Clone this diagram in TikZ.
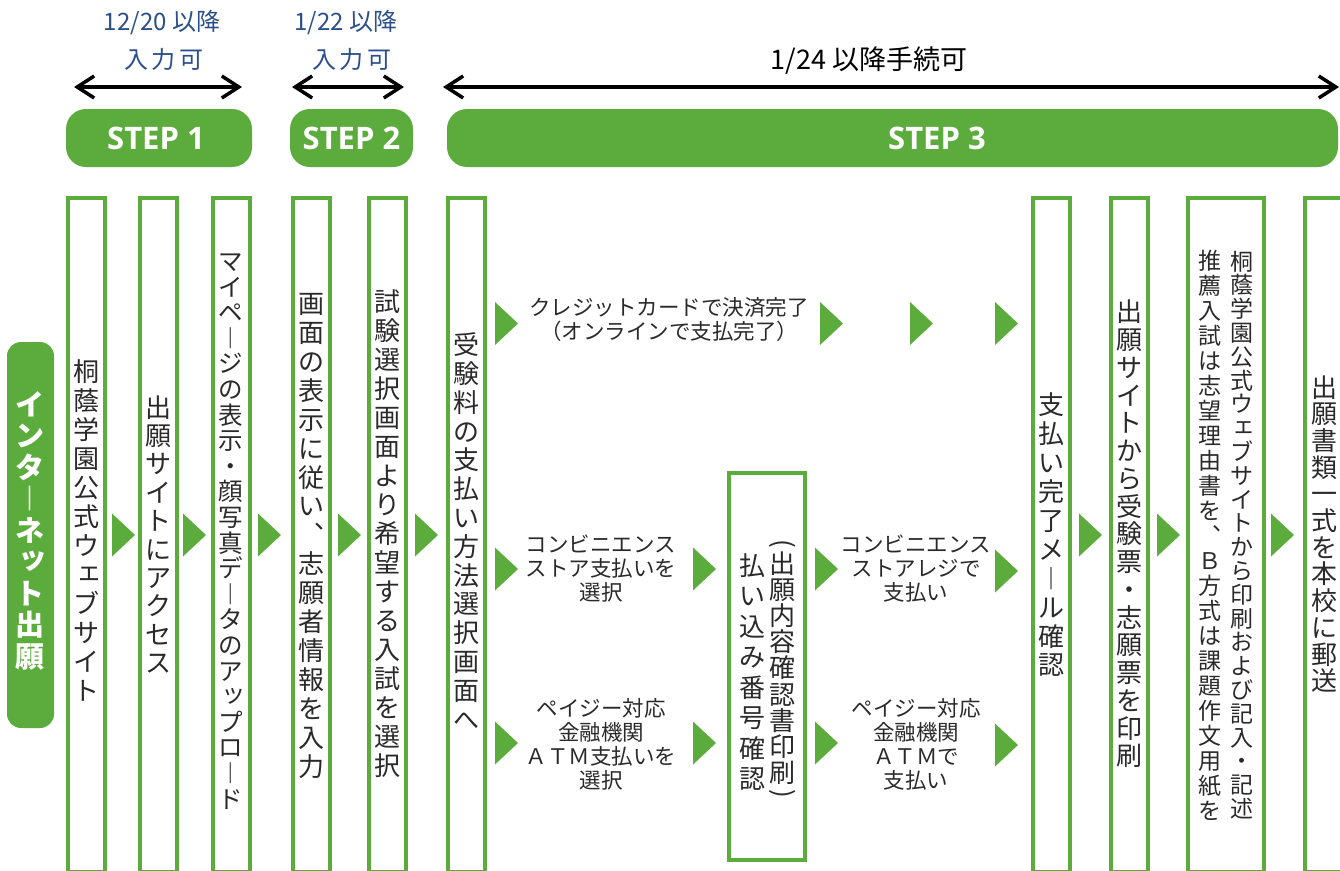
\documentclass[tikz,border=0pt]{standalone}
\usepackage{fontspec}
\setmainfont{Noto Sans CJK JP}
\newfontfamily\stepfont{Open Sans}
\usetikzlibrary{arrows.meta}
\definecolor{gr}{HTML}{5CAC3D}
\definecolor{hb}{HTML}{2B4F8C}
\definecolor{tx}{HTML}{2A2A2A}
\makeatletter
\newcommand\vtxt[2]{%
  \vbox{\offinterlineskip\@tfor\vt@c:=#2\do{%
    \vbox to #1{\vss\hbox to 1em{\hss\vrule height .88em depth .12em width 0pt\vt@c\hss}\vss}}}}
\makeatother
\newcommand\sk[1]{\raisebox{.14em}{\kern.2em#1}}
\newcommand\vb{︱}
\newcommand\vc{︑}
\newcommand\tri[2]{\fill[gr] (#1,#2-21.5) -- (#1+23,#2) -- (#1,#2+21.5) -- cycle;}
\begin{document}
\begin{tikzpicture}[x=1pt,y=-1pt,
  col/.style={draw=gr, line width=4pt, minimum width=37pt, inner sep=0pt, fill=white},
  stepbar/.style={fill=gr, rounded corners=20pt, inner sep=0pt, minimum height=58pt},
  steptext/.style={text=white, inner sep=0pt, font=\stepfont\bfseries\fontsize{31}{31}\selectfont},
  vt/.style={inner sep=0pt, text=tx, font=\fontsize{26}{26}\selectfont},
  vts/.style={inner sep=0pt, text=tx, font=\fontsize{23}{23}\selectfont},
  lbl/.style={align=center, inner sep=0pt, text=tx, font=\fontsize{21.5}{24}\selectfont},
  hdr/.style={inner sep=0pt, font=\fontsize{24}{24}\selectfont},
  dbl/.style={line width=3.5pt, {Straight Barb[length=17pt,width=22pt,line width=3.5pt]}-{Straight Barb[length=17pt,width=22pt,line width=3.5pt]}}
]
\useasboundingbox (0,0) rectangle (1340,870);
\clip (0,0) rectangle (1340,870);
\fill[white] (0,0) rectangle (1340,870);

% headers
\node[hdr, text=hb] (h1a) at (162,23) {12/20 以降};
\node[hdr, text=hb] (h1b) at (164,59) {入\kern4pt力\kern4pt可};
\node[hdr, text=hb] (h2a) at (346,23) {1/22 以降};
\node[hdr, text=hb] (h2b) at (352,59) {入\kern4pt力\kern4pt可};
\node[hdr, text=black, font=\fontsize{27}{27}\selectfont] (h3) at (869,61) {1/24 以降手続可};

\coordinate (a1l) at (74,87);  \coordinate (a1r) at (242,87);
\coordinate (a2l) at (292,87); \coordinate (a2r) at (404,87);
\coordinate (a3l) at (443,87); \coordinate (a3r) at (1339,87);
\draw[dbl] (a1l) -- (a1r);
\draw[dbl] (a2l) -- (a2r);
\draw[dbl] (a3l) -- (a3r);

% step bars
\node[stepbar, minimum width=186pt] (s1) at (159,138) {};
\node[steptext] at (156,138) {STEP 1};
\node[stepbar, minimum width=123pt] (s2) at (351.5,138) {};
\node[steptext] at (s2) {STEP 2};
\node[stepbar, minimum width=891pt] (s3) at (892.5,138) {};
\node[steptext] (s3t) at (937,138) {STEP 3};

% left label
\node[fill=gr, rounded corners=14pt, minimum width=47pt, minimum height=386pt, inner sep=0pt] (L) at (30.5,535) {};
\node[inner sep=0pt, text=white, font=\bfseries\fontsize{29}{29}\selectfont] (Lt) at (30,530)
  {\vtxt{31.5pt}{インタ\vb ネ{\sk ッ}ト出願}};

% columns
\node[col, minimum height=674pt] (c1) at (86.5,535) {};
\node[col, minimum height=674pt] (c2) at (158,535) {};
\node[col, minimum height=674pt] (c3) at (231,535) {};
\node[col, minimum height=674pt] (c4) at (311,535) {};
\node[col, minimum height=674pt] (c5) at (387.5,535) {};
\node[col, minimum height=674pt] (c6) at (466,535) {};
\node[col, minimum width=76pt, minimum height=387pt] (m) at (767,666.5) {};
\node[col, minimum height=674pt] (c8) at (1051,535) {};
\node[col, minimum height=674pt] (c9) at (1129,535) {};
\node[col, minimum width=76pt, minimum height=674pt] (c10) at (1226,535) {};
\node[col, minimum height=674pt] (c11) at (1323.5,535) {};

% column texts
\node[vt] (t1) at (86.5,531) {\vtxt{29pt}{桐蔭学園公式ウ{\sk ェ}ブサイト}};
\node[vt] (t2) at (158,535) {\vtxt{28.4pt}{出願サイトにアクセス}};
\node[vt, font=\fontsize{24.5}{24.5}\selectfont] (t3) at (231,530) {\vtxt{25.6pt}{マイペ\vb ジの表示・顔写真デ\vb タのア{\sk ッ}プロ\vb ド}};
\node[vt] (t4) at (311,535) {\vtxt{28.9pt}{画面の表示に従い\vc 志願者情報を入力}};
\node[vt] (t5) at (387.5,534) {\vtxt{29pt}{試験選択画面より希望する入試を選択}};
\node[vt] (t6) at (466,532) {\vtxt{28.8pt}{受験料の支払い方法選択画面へ}};
\node[vt] (mL) at (752,672) {\vtxt{30.5pt}{払い込み番号確認}};
\node[vt] (mR) at (782,668) {\vtxt{26.2pt}{出願内容確認書印刷}};
\node[vt, rotate=-90] (pO) at (783,544) {(};
\node[vt, rotate=-90] (pC) at (783,794) {)};
\node[vt] (t8) at (1051,535) {\vtxt{28.9pt}{支払い完了メ\vb ル確認}};
\node[vt] (t9) at (1129,534) {\vtxt{27.75pt}{出願サイトから受験票・志願票を印刷}};
\node[vts] (t10r) at (1242,535) {\vtxt{23.8pt}{桐蔭学園公式ウ{\sk ェ}ブサイトから印刷および記入・記述}};
\node[vts] (t10l) at (1210,536) {\vtxt{25pt}{推薦入試は志望理由書を\vc Ｂ方式は課題作文用紙を}};
\node[vt] (t11) at (1324,534) {\vtxt{26.7pt}{出願書類一式を本校に郵送}};

% horizontal labels
\node[lbl] (cc) at (669,319) {クレジットカードで決済完了\\（オンラインで支払完了）};
\node[lbl] (cvs) at (601,568.5) {コンビニエンス\\ストア支払いを\\選択};
\node[lbl] (atm) at (601,744) {ペイジー対応\\金融機関\\ＡＴＭ支払いを\\選択};
\node[lbl] (cvs2) at (916,568.5) {コンビニエンス\\ストアレジで\\支払い};
\node[lbl] (atm2) at (916,744) {ペイジー対応\\金融機関\\ＡＴＭで\\支払い};

% arrows between columns
\tri{112}{535} \tri{183}{535} \tri{258}{535} \tri{338}{535} \tri{415}{535}
\tri{1079}{535} \tri{1157}{535} \tri{1271}{535}
% step 3 rows
\tri{495}{323.5} \tri{820}{323.5} \tri{910}{323.5} \tri{995}{323.5}
\tri{495}{569} \tri{693}{569} \tri{815}{569} \tri{995}{571}
\tri{495}{743} \tri{693}{743} \tri{815}{743} \tri{995}{745}
\end{tikzpicture}
\end{document}
